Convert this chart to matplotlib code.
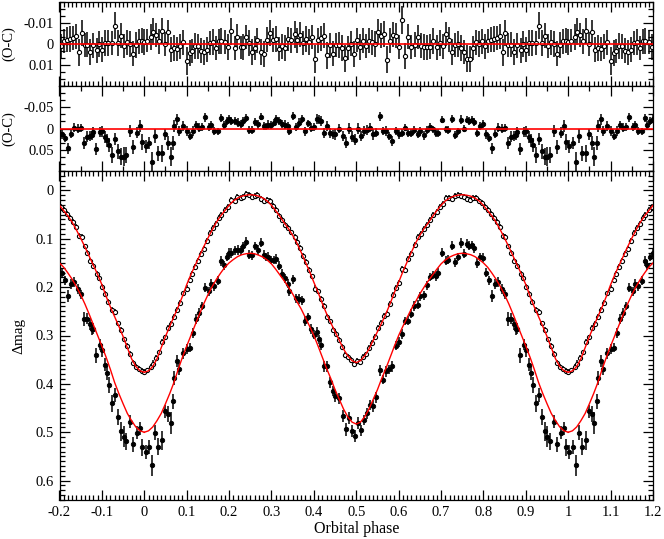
import numpy as np
import matplotlib
matplotlib.use("Agg")
import matplotlib.pyplot as plt
from matplotlib.ticker import MultipleLocator, FixedLocator, FuncFormatter

plt.rcParams['font.family'] = ['Liberation Serif', 'DejaVu Serif']
plt.rcParams['axes.unicode_minus'] = False

# ---------------- model light curves (one cycle, mag in mmag) ----------------
model_phase = [0.00, 0.01, 0.02, 0.03, 0.04, 0.05, 0.06, 0.07, 0.08, 0.09,
               0.10, 0.11, 0.12, 0.13, 0.14, 0.15, 0.16, 0.17, 0.18, 0.19,
               0.20, 0.21, 0.22, 0.23, 0.24, 0.25, 0.26, 0.27, 0.28, 0.29,
               0.30, 0.31, 0.32, 0.33, 0.34, 0.35, 0.36, 0.37, 0.38, 0.39,
               0.40, 0.41, 0.42, 0.43, 0.44, 0.45, 0.46, 0.47, 0.48, 0.49,
               0.50, 0.51, 0.52, 0.53, 0.54, 0.55, 0.56, 0.57, 0.58, 0.59,
               0.60, 0.61, 0.62, 0.63, 0.64, 0.65, 0.66, 0.67, 0.68, 0.69,
               0.70, 0.71, 0.72, 0.73, 0.74, 0.75, 0.76, 0.77, 0.78, 0.79,
               0.80, 0.81, 0.82, 0.83, 0.84, 0.85, 0.86, 0.87, 0.88, 0.89,
               0.90, 0.91, 0.92, 0.93, 0.94, 0.95, 0.96, 0.97, 0.98, 0.99,
               1.00]
model_open_mmag = [376, 373, 364, 348, 325, 302, 281, 261, 241, 219,
                   195, 174, 155, 136, 117, 99, 82, 66, 53, 42,
                   31, 22, 16, 12, 10, 9, 10, 12, 16, 22,
                   31, 42, 54, 67, 79, 93, 109, 128, 148, 168,
                   190, 211, 234, 255, 274, 292, 310, 328, 342, 352,
                   356, 352, 342, 328, 310, 292, 274, 255, 234, 211,
                   190, 168, 148, 128, 109, 93, 79, 67, 54, 42,
                   31, 22, 16, 12, 10, 9, 10, 12, 16, 22,
                   31, 42, 53, 66, 82, 99, 117, 136, 155, 174,
                   195, 219, 241, 261, 281, 302, 325, 348, 364, 373,
                   376]
model_filled_mmag = [500, 497, 489, 476, 461, 441, 420, 397, 370, 345,
                     322, 300, 278, 256, 235, 216, 199, 184, 171, 159,
                     150, 143, 137, 133, 131, 130, 131, 134, 138, 144,
                     152, 163, 175, 187, 200, 214, 230, 245, 263, 281,
                     300, 322, 345, 368, 389, 412, 432, 452, 468, 479,
                     483, 479, 468, 452, 432, 412, 389, 368, 345, 322,
                     300, 281, 263, 245, 230, 214, 200, 187, 175, 163,
                     152, 144, 138, 134, 131, 130, 131, 133, 137, 143,
                     150, 159, 171, 184, 199, 216, 235, 256, 278, 300,
                     322, 345, 370, 397, 420, 441, 461, 476, 489, 497,
                     500]

# ---------------- open-circle series ----------------
open_phase = [0.000, 0.007, 0.015, 0.020, 0.028, 0.035, 0.042, 0.049, 0.056, 0.064,
              0.071, 0.078, 0.084, 0.092, 0.100, 0.107, 0.113, 0.119, 0.126, 0.134,
              0.140, 0.148, 0.156, 0.162, 0.169, 0.176, 0.182, 0.190, 0.198, 0.205,
              0.213, 0.219, 0.227, 0.233, 0.240, 0.247, 0.254, 0.260, 0.267, 0.275,
              0.282, 0.289, 0.296, 0.303, 0.311, 0.317, 0.325, 0.332, 0.340, 0.347,
              0.355, 0.360, 0.368, 0.374, 0.381, 0.389, 0.396, 0.403, 0.410, 0.417,
              0.424, 0.431, 0.438, 0.445, 0.452, 0.459, 0.467, 0.474, 0.481, 0.488,
              0.495, 0.502, 0.509, 0.516, 0.523, 0.530, 0.537, 0.544, 0.551, 0.558,
              0.565, 0.573, 0.579, 0.586, 0.593, 0.600, 0.607, 0.615, 0.622, 0.629,
              0.638, 0.646, 0.653, 0.660, 0.668, 0.675, 0.682, 0.690, 0.697, 0.705,
              0.712, 0.719, 0.725, 0.733, 0.740, 0.747, 0.754, 0.761, 0.768, 0.775,
              0.782, 0.789, 0.796, 0.803, 0.810, 0.817, 0.825, 0.832, 0.838, 0.845,
              0.852, 0.859, 0.866, 0.873, 0.880, 0.888, 0.894, 0.901, 0.908, 0.915,
              0.923, 0.930, 0.937, 0.945, 0.952, 0.959, 0.966, 0.973, 0.980, 0.987,
              0.994]
open_mag_mmag = [375, 372, 365, 358, 347, 335, 314, 304, 284, 276,
                 261, 247, 233, 213, 203, 185, 172, 158, 145, 132,
                 121, 105, 88, 78, 70, 57, 50, 41, 35, 20,
                 22, 13, 15, 13, 7, 9, 13, 12, 10, 18,
                 22, 19, 22, 32, 41, 53, 62, 71, 77, 87,
                 96, 107, 120, 136, 148, 165, 178, 203, 209, 224,
                 238, 262, 271, 288, 296, 309, 324, 341, 345, 350,
                 359, 353, 354, 344, 339, 326, 315, 303, 284, 274,
                 260, 256, 235, 216, 201, 191, 163, 164, 141, 131,
                 113, 96, 90, 80, 71, 62, 50, 44, 34, 28,
                 16, 15, 18, 12, 10, 11, 13, 17, 19, 16,
                 16, 21, 26, 35, 41, 48, 57, 66, 75, 95,
                 97, 116, 129, 146, 156, 173, 182, 200, 214, 230,
                 247, 252, 275, 288, 308, 322, 339, 357, 365, 369,
                 373]
open_oc_mmag = [-1.0, -1.6, -3.4, -5.8, -4.2, -1.3, -6.1, 0.0, -5.6, 2.7,
                1.9, 2.4, 1.1, -0.8, 8.0, 4.3, 3.5, 1.1, 1.1, 3.2,
                4.0, 2.7, -0.5, -1.0, 1.9, -1.3, -1.3, -1.0, 1.4, -6.1,
                1.9, -3.4, 1.6, 1.6, -3.4, -0.5, 3.8, 1.9, -1.8, 3.8,
                4.8, -2.1, -5.1, -1.9, -2.4, 2.2, 1.1, 1.8, -2.5, -1.8,
                -4.6, -1.8, -4.5, -0.5, -2.4, -1.0, -3.4, 7.1, -1.8, -2.7,
                -4.0, 5.4, 0.6, 4.6, 0.6, 0.6, 1.9, 6.9, 1.9, -0.2,
                4.8, -1.8, 1.4, -1.6, 1.1, -1.6, -0.8, 0.0, -5.8, -4.0,
                -4.8, 7.5, -1.6, -4.5, -4.0, 1.3, -11.4, 5.9, -3.4, 1.4,
                0.3, -3.2, 0.8, 1.4, 1.6, 1.3, -1.3, 1.6, -0.5, 1.1,
                -4.8, -2.1, 3.8, 0.6, -0.2, 1.9, 3.8, 7.1, 7.1, 1.9,
                -0.8, 0.0, -1.3, 1.1, -1.3, -2.1, -2.4, -2.9, -3.7, 4.0,
                -5.3, 0.6, 0.3, 3.8, 0.6, 3.0, 0.0, 2.7, -0.5, -0.5,
                -0.5, -8.8, -0.5, -4.0, 1.1, -0.8, 0.0, 4.6, 0.6, -1.3,
                -1.6]
open_err_mmag = [6.0, 5.5, 6.2, 6.5, 5.8, 6.0, 6.3, 5.7, 6.0, 5.9,
                 6.1, 5.6, 6.0, 5.8, 6.8, 6.0, 5.7, 6.2, 5.9, 6.0,
                 5.8, 6.1, 5.9, 6.3, 5.7, 6.0, 6.2, 5.8, 6.1, 6.4,
                 5.9, 6.0, 5.6, 6.2, 5.8, 6.0, 6.1, 5.7, 6.0, 6.3,
                 6.0, 5.8, 6.2, 5.9, 6.1, 5.7, 6.0, 6.2, 5.8, 6.0,
                 6.3, 5.9, 6.1, 5.8, 6.0, 6.2, 5.7, 6.5, 6.0, 5.8,
                 6.1, 6.4, 5.9, 6.0, 5.8, 6.2, 6.0, 6.3, 5.9, 6.1,
                 6.0, 5.8, 6.2, 6.0, 5.7, 6.1, 5.9, 6.0, 6.3, 5.8,
                 6.2, 6.4, 5.9, 6.0, 6.1, 5.8, 6.8, 6.2, 6.0, 5.9,
                 6.1, 5.8, 6.0, 6.2, 5.9, 6.0, 6.1, 5.8, 6.2, 6.0,
                 5.9, 6.1, 6.0, 5.8, 6.2, 6.0, 5.9, 6.4, 6.1, 5.8,
                 6.0, 6.2, 5.9, 6.1, 5.8, 6.0, 6.2, 5.9, 6.0, 6.3,
                 6.1, 5.8, 6.0, 6.2, 5.9, 6.0, 6.1, 5.8, 6.0, 6.2,
                 5.9, 6.5, 6.0, 6.1, 5.8, 6.0, 6.2, 5.9, 6.1, 6.0,
                 5.8]

# ---------------- filled-circle series ----------------
filled_phase = [0.003, 0.011, 0.019, 0.025, 0.033, 0.041, 0.049, 0.056, 0.062, 0.068,
                0.071, 0.078, 0.083, 0.091, 0.100, 0.107, 0.115, 0.122, 0.130, 0.136,
                0.144, 0.152, 0.158, 0.165, 0.173, 0.180, 0.187, 0.194, 0.199, 0.205,
                0.213, 0.221, 0.227, 0.232, 0.240, 0.246, 0.254, 0.260, 0.268, 0.276,
                0.282, 0.288, 0.293, 0.300, 0.305, 0.311, 0.318, 0.326, 0.333, 0.339,
                0.342, 0.350, 0.358, 0.366, 0.372, 0.380, 0.386, 0.394, 0.401, 0.407,
                0.413, 0.417, 0.424, 0.431, 0.439, 0.445, 0.450, 0.459, 0.468, 0.475,
                0.482, 0.489, 0.497, 0.504, 0.511, 0.519, 0.526, 0.533, 0.540, 0.547,
                0.555, 0.562, 0.570, 0.577, 0.585, 0.593, 0.600, 0.607, 0.615, 0.622,
                0.630, 0.637, 0.645, 0.651, 0.659, 0.666, 0.674, 0.682, 0.687, 0.694,
                0.703, 0.711, 0.717, 0.725, 0.733, 0.741, 0.747, 0.755, 0.761, 0.766,
                0.772, 0.777, 0.785, 0.792, 0.799, 0.807, 0.814, 0.821, 0.828, 0.835,
                0.843, 0.850, 0.858, 0.865, 0.871, 0.877, 0.880, 0.887, 0.895, 0.901,
                0.908, 0.912, 0.917, 0.923, 0.931, 0.938, 0.945, 0.951, 0.958, 0.967,
                0.974, 0.982, 0.990, 0.995]
filled_mag_mmag = [541, 531, 568, 501, 530, 517, 457, 462, 481, 436,
                   388, 353, 369, 337, 328, 325, 295, 266, 254, 239,
                   201, 209, 194, 198, 187, 146, 155, 138, 129, 129,
                   124, 123, 124, 116, 106, 133, 134, 115, 123, 108,
                   133, 138, 137, 144, 144, 142, 156, 172, 182, 193,
                   209, 184, 223, 225, 227, 270, 262, 287, 298, 293,
                   308, 320, 364, 364, 397, 415, 426, 430, 467, 494,
                   470, 497, 508, 481, 496, 475, 461, 444, 446, 428,
                   372, 391, 374, 370, 364, 321, 314, 297, 270, 269,
                   255, 239, 236, 219, 217, 196, 179, 175, 177, 170,
                   129, 145, 143, 114, 149, 138, 109, 131, 110, 114,
                   113, 120, 150, 138, 139, 170, 186, 218, 193, 190,
                   204, 215, 266, 265, 276, 287, 286, 341, 319, 331,
                   360, 378, 402, 440, 423, 469, 498, 509, 519, 478,
                   525, 501, 492, 531]
filled_oc_mmag = [42, 35, 78, 18, 58, 58, 14, 34, 66, 34,
                  -6, -22, 6, -6, 6, 18, 6, -8, -2, -4,
                  -26, -4, -8, 6, 7, -25, -8, -17, -22, -18,
                  -17, -14, -10, -17, -25, 3, 4, -16, -10, -28,
                  -6, -5, -9, -8, -14, -22, -17, -10, -9, -6,
                  6, -30, -4, -14, -22, 7, -12, -2, -4, -22,
                  -21, -18, 10, -6, 10, 14, 14, 0, 18, 34,
                  0, 19, 26, 0, 18, 6, 3, -2, 14, 10,
                  -29, 6, 6, 18, 30, 6, 14, 10, -2, 10,
                  10, 4, 14, 6, 16, 4, -3, 2, 10, 11,
                  -21, 2, 3, -22, 16, 7, -21, 0, -21, -18,
                  -21, -16, 10, -6, -10, 14, 22, 46, 12, -2,
                  0, -1, 35, 19, 18, 16, 8, 48, 8, 7,
                  20, 28, 39, 62, 24, 54, 67, 66, 62, 6,
                  44, 10, -5, 32]
filled_err_mmag = [15, 14, 22, 16, 18, 20, 14, 17, 22, 16,
                   14, 13, 12, 12, 11, 10, 11, 10, 10, 9,
                   10, 9, 10, 9, 9, 10, 9, 9, 9, 10,
                   9, 10, 9, 9, 10, 9, 9, 9, 10, 9,
                   9, 9, 10, 9, 9, 10, 9, 9, 10, 9,
                   9, 10, 9, 10, 9, 10, 9, 10, 10, 11,
                   10, 11, 12, 11, 12, 11, 12, 11, 12, 13,
                   12, 12, 13, 12, 12, 11, 12, 11, 12, 11,
                   11, 10, 11, 10, 12, 10, 10, 10, 9, 10,
                   9, 10, 9, 9, 10, 9, 9, 9, 10, 9,
                   9, 9, 9, 10, 9, 9, 10, 9, 9, 10,
                   9, 9, 10, 9, 9, 10, 10, 13, 10, 10,
                   10, 10, 14, 12, 12, 11, 11, 15, 12, 13,
                   13, 15, 16, 18, 14, 17, 20, 22, 18, 14,
                   16, 13, 14, 18]

XMIN, XMAX = -0.2, 1.2


def tile(phase, *cols):
    """Repeat one phased cycle at shifts -1, 0, +1 and keep the visible window."""
    ph = np.asarray(phase, float)
    xs, outs = [], [[] for _ in cols]
    for s in (-1, 0, 1):
        x = ph + s
        m = (x >= XMIN - 1e-9) & (x <= XMAX + 1e-9)
        xs.append(x[m])
        for o, c in zip(outs, cols):
            o.append(np.asarray(c, float)[m])
    return [np.concatenate(xs)] + [np.concatenate(o) for o in outs]


fig = plt.figure(figsize=(6.64, 5.39), dpi=100)
L = 59.5 / 664
Wd = (653 - 59.5) / 664
ax1 = fig.add_axes([L, 1 - 86 / 539, Wd, 84 / 539])
ax2 = fig.add_axes([L, 1 - 171 / 539, Wd, 85 / 539])
ax3 = fig.add_axes([L, 1 - 500 / 539, Wd, 329 / 539])


def _fmt(v, p):
    if abs(v) < 1e-12:
        return '0'
    return '%g' % round(v, 6)


fmt = FuncFormatter(_fmt)
ebk = dict(ecolor='black', elinewidth=1.1, capsize=0, linestyle='none')

# top panel: O-C of open circles
x, oc, er = tile(open_phase, np.array(open_oc_mmag) / 1000, np.array(open_err_mmag) / 1000)
ax1.errorbar(x, oc, yerr=er, fmt='o', ms=3.0, mfc='white', mec='black', mew=0.8, zorder=2, **ebk)
ax1.axhline(0, color='red', lw=1.2, zorder=5)
ax1.set_ylim(0.02, -0.02)
ax1.yaxis.set_major_locator(FixedLocator([-0.01, 0, 0.01]))
ax1.yaxis.set_minor_locator(MultipleLocator(0.01 / 3))
ax1.xaxis.set_minor_locator(MultipleLocator(0.01))

# middle panel: O-C of filled circles
x, oc, er = tile(filled_phase, np.array(filled_oc_mmag) / 1000, np.array(filled_err_mmag) / 1000)
ax2.errorbar(x, oc, yerr=er, fmt='o', ms=3.2, mfc='black', mec='black', mew=0.6, zorder=2, **ebk)
ax2.axhline(0, color='red', lw=1.2, zorder=5)
ax2.set_ylim(0.1, -0.1)
ax2.yaxis.set_major_locator(FixedLocator([-0.05, 0, 0.05]))
ax2.yaxis.set_minor_locator(MultipleLocator(0.05 / 3))
ax2.xaxis.set_minor_locator(MultipleLocator(0.05))

# bottom panel: light curves + models
x, mg, er = tile(open_phase, np.array(open_mag_mmag) / 1000, np.array(open_err_mmag) / 1000)
ax3.errorbar(x, mg, yerr=er, fmt='o', ms=3.0, mfc='white', mec='black', mew=0.8, zorder=2, **ebk)
x, mg, er = tile(filled_phase, np.array(filled_mag_mmag) / 1000, np.array(filled_err_mmag) / 1000)
ax3.errorbar(x, mg, yerr=er, fmt='o', ms=3.2, mfc='black', mec='black', mew=0.6, zorder=2, **ebk)
mp = np.asarray(model_phase)
for s in (-1, 0, 1):
    ax3.plot(mp + s, np.array(model_open_mmag) / 1000, color='red', lw=1.0, zorder=4)
    ax3.plot(mp + s, np.array(model_filled_mmag) / 1000, color='red', lw=1.0, zorder=4)
ax3.set_ylim(0.64, -0.04)
ax3.yaxis.set_major_locator(FixedLocator([0, 0.1, 0.2, 0.3, 0.4, 0.5, 0.6]))
ax3.yaxis.set_minor_locator(MultipleLocator(0.01))
ax3.xaxis.set_minor_locator(MultipleLocator(0.01))

for ax in (ax1, ax2, ax3):
    ax.set_xlim(XMIN, XMAX)
    ax.xaxis.set_major_locator(MultipleLocator(0.1))
    ax.xaxis.set_major_formatter(fmt)
    ax.yaxis.set_major_formatter(fmt)
    ax.tick_params(which='both', direction='in', top=True, right=True, width=0.9,
                   labelsize=10.5, pad=4)
    ax.tick_params(which='major', length=7.5)
    ax.tick_params(which='minor', length=3.8)
    for sp in ax.spines.values():
        sp.set_linewidth(0.9)

ax1.tick_params(labelbottom=False)
ax2.tick_params(labelbottom=False)

ax1.set_ylabel('(O-C)', fontsize=10.5)
ax2.set_ylabel('(O-C)', fontsize=10.5)
ax3.set_ylabel('\u0394mag', fontsize=11)
# y-label anchor is the right edge of the rotated text
ax1.yaxis.set_label_coords(-0.074, 0.5)
ax2.yaxis.set_label_coords(-0.074, 0.5)
ax3.yaxis.set_label_coords(-0.058, 0.5)
ax3.set_xlabel('Orbital phase', fontsize=11.5, labelpad=2)

fig.savefig('out.png', dpi=100)
